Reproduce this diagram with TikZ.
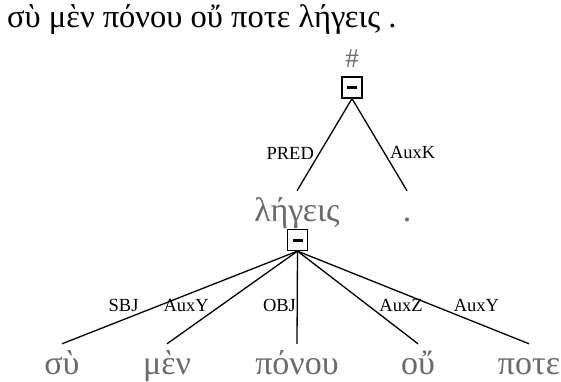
\documentclass[tikz,border=0pt]{standalone}
\usepackage{fontspec}
\setmainfont{Liberation Serif}
\usetikzlibrary{positioning}

\definecolor{wordgray}{gray}{0.42}

\tikzset{
  word/.style={font=\fontsize{34}{34}\selectfont, text=wordgray, anchor=base,
    inner sep=0pt, text height=30pt, text depth=8pt},
  rel/.style={font=\fontsize{18.5}{18.5}\selectfont, inner sep=0.6pt, pos=0.67},
  hidebox/.style={draw, line width=1.2pt, minimum width=20pt, minimum height=21pt, inner sep=0pt},
  branch/.style={line width=1.3pt}
}

\begin{document}
\begin{tikzpicture}[x=1pt,y=-1pt]
    \useasboundingbox (0,0) rectangle (561,382);

    % Sentence
    \node[anchor=base west, inner sep=0pt, font=\fontsize{32.5}{32.5}\selectfont] (sentence) at (7,28)
        {σὺ μὲν πόνου οὔ ποτε λήγεις .};

    % Root
    \node[font=\fontsize{27}{27}\selectfont, text=wordgray, anchor=base, inner sep=0pt] (root) at (352,68) {\#};
    \node[hidebox] (rootbox) at (352,87.5) {\rule{10pt}{3pt}};

    % Second level
    \node[word] (legeis) at (297,221) {λήγεις};
    \node[word] (dot) at (407,221) {.};
    \node[hidebox] (legeisbox) at (297.5,240) {\rule{10pt}{3pt}};

    \draw[branch] (rootbox.south) -- node[rel, anchor=south east] {PRED} (legeis.north);
    \draw[branch] (rootbox.south) -- node[rel, anchor=south west] {AuxK} (dot.north);

    % Leaves
    \node[word] (sy) at (62,374) {σὺ};
    \node[word] (men) at (167,374) {μὲν};
    \node[word] (ponou) at (297,374) {πόνου};
    \node[word] (ou) at (418,374) {οὔ};
    \node[word] (pote) at (529,374) {ποτε};

    \draw[branch] (legeisbox.south) -- node[rel, anchor=south east] {SBJ} (sy.north);
    \draw[branch] (legeisbox.south) -- node[rel, anchor=south east] {AuxY} (men.north);
    \draw[branch] (legeisbox.south) -- node[rel, anchor=south east] {OBJ} (ponou.north);
    \draw[branch] (legeisbox.south) -- node[rel, anchor=south west] {AuxZ} (ou.north);
    \draw[branch] (legeisbox.south) -- node[rel, anchor=south west] {AuxY} (pote.north);
\end{tikzpicture}
\end{document}
